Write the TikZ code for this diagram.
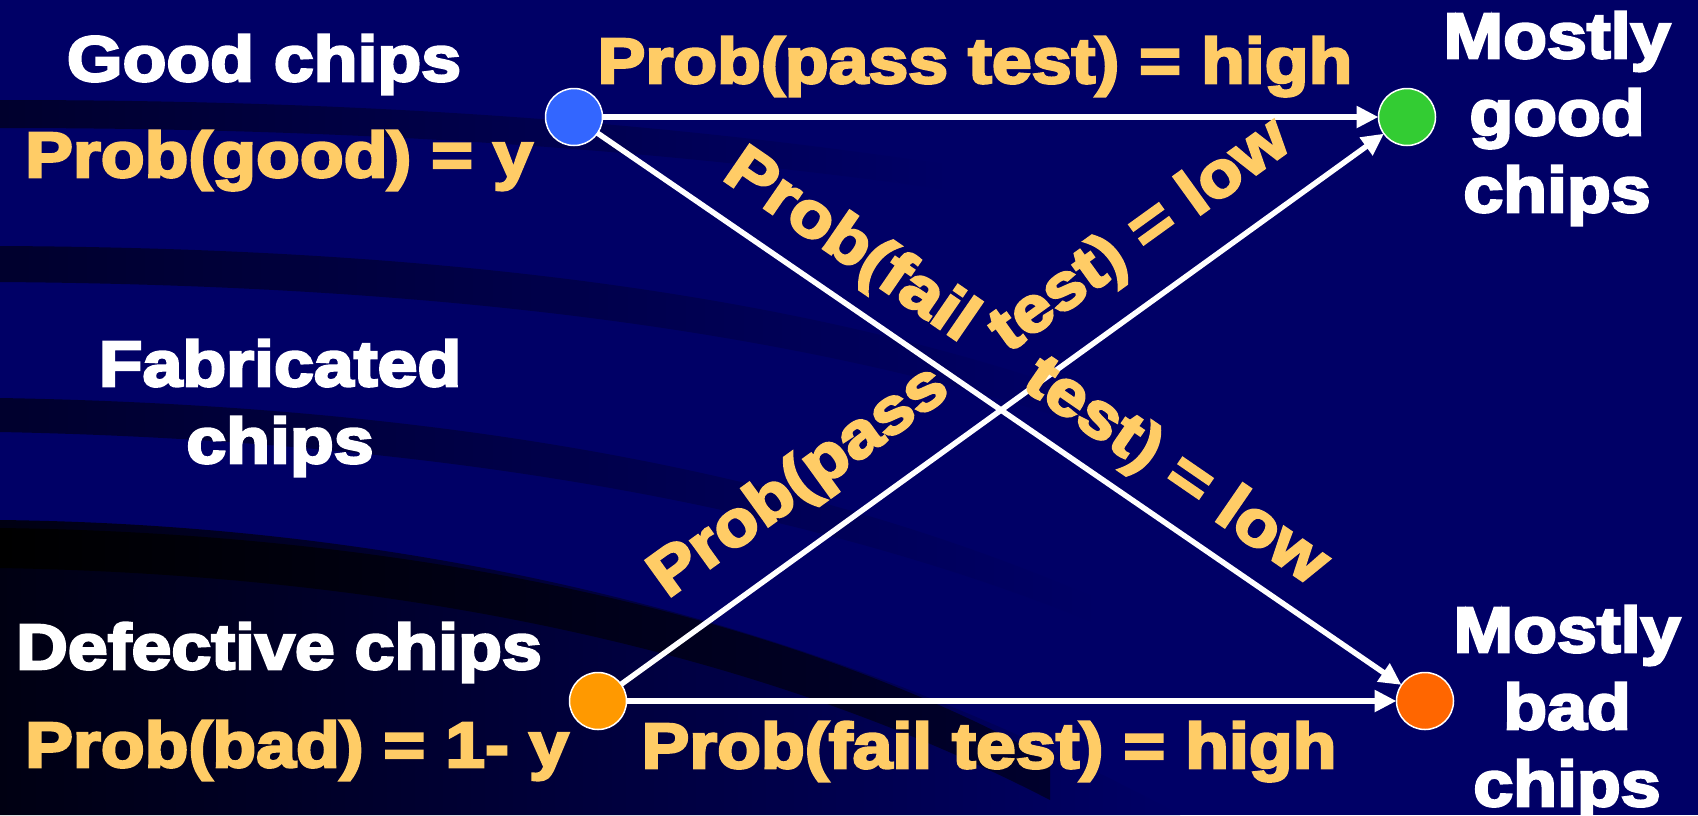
\documentclass[tikz,border=0pt]{standalone}
\usepackage{fontspec}
\setmainfont{Liberation Sans}[UprightFont=* Bold, FakeStretch=1.12, FakeBold=4]
\usetikzlibrary{arrows.meta}

\definecolor{bgnavy}{RGB}{0,0,102}
\definecolor{bandnavy}{RGB}{0,0,45}
\definecolor{deepnavy}{RGB}{0,0,18}
\definecolor{labelgold}{RGB}{255,204,102}
\definecolor{dotblue}{RGB}{51,102,255}
\definecolor{dotgreen}{RGB}{51,204,51}
\definecolor{dotamber}{RGB}{255,153,0}
\definecolor{dotorange}{RGB}{255,102,0}

\begin{document}
\begin{tikzpicture}[x=1pt, y=-1pt,
  dot/.style={circle, draw=white, line width=1.5pt, minimum size=57pt,
              inner sep=0pt, outer sep=0pt},
  flow/.style={draw=white, line width=5.5pt,
               -{Triangle[length=22pt, width=21pt]}},
  bigtext/.style={font=\fontsize{64}{77}\selectfont, inner sep=0pt},
  title/.style={bigtext, text=white, align=center},
  prob/.style={bigtext, text=labelgold},
  band/.style={left color=bandnavy, right color=bgnavy},
]
% backdrop with dark sweeping bands
\fill[bgnavy] (0,0) rectangle (1698,815);
\useasboundingbox (0,0) rectangle (1698,815);
\shade[band] (0,100) .. controls (350,100) and (650,120) .. (950,165)
  -- (950,190) .. controls (650,148) and (350,128) .. (0,128) -- cycle;
\shade[band] (0,246) .. controls (400,248) and (780,285) .. (1100,400)
  -- (1100,430) .. controls (780,322) and (400,285) .. (0,282) -- cycle;
\shade[band] (0,398) .. controls (400,405) and (780,460) .. (1100,600)
  -- (1100,625) .. controls (780,495) and (400,440) .. (0,432) -- cycle;
\shade[left color=deepnavy, right color=bgnavy]
  (0,520) .. controls (420,525) and (820,620) .. (1180,815) -- (0,815) -- cycle;
\shade[left color=black, right color=bandnavy]
  (0,528) .. controls (400,533) and (780,610) .. (1050,760)
  -- (1050,800) .. controls (760,650) and (400,575) .. (0,568) -- cycle;

% the four chip populations
\node[dot, fill=dotblue]   (good)  at (574,117) {};
\node[dot, fill=dotgreen]  (pgood) at (1407,117) {};
\node[dot, fill=dotamber]  (bad)   at (598,701) {};
\node[dot, fill=dotorange] (pbad)  at (1425,701) {};

% test outcomes
\draw[flow] (good) -- (pgood);
\draw[flow] (good) -- (pbad);
\draw[flow] (bad) -- (pgood);
\draw[flow] (bad) -- (pbad);

% left-hand labels (base = baseline of the last line)
\node[title, anchor=base] (gtitle) at (264,81) {Good chips};
\node[prob, anchor=base]  (gprob)  at (279,177) {Prob(good) = y};
\node[title, anchor=base] (fab)    at (280,463) {Fabricated\\chips};
\node[title, anchor=base] (dtitle) at (279,669) {Defective chips};
\node[prob, anchor=base]  (dprob)  at (297,767) {Prob(bad) = 1- y};

% right-hand labels
\node[title, anchor=base] (mgood) at (1557,212) {Mostly\\good\\chips};
\node[title, anchor=base] (mbad)  at (1567,806) {Mostly\\bad\\chips};

% labels on the straight paths
\node[prob, anchor=base] (ppass) at (975,83) {Prob(pass test) = high};
\node[prob, anchor=base] (pfail) at (989,768) {Prob(fail test) = high};

% labels bending along the crossing paths
\node[prob, rotate=-34.5] (lfa) at (850,247) {Prob(fail};
\node[prob, rotate=35.8]  (lfb) at (1141,237) {test) = low};
\node[prob, rotate=35.8]  (lpa) at (800,483) {Prob(pass};
\node[prob, rotate=-34.5] (lpb) at (1175,473) {test) = low};
\end{tikzpicture}
\end{document}
